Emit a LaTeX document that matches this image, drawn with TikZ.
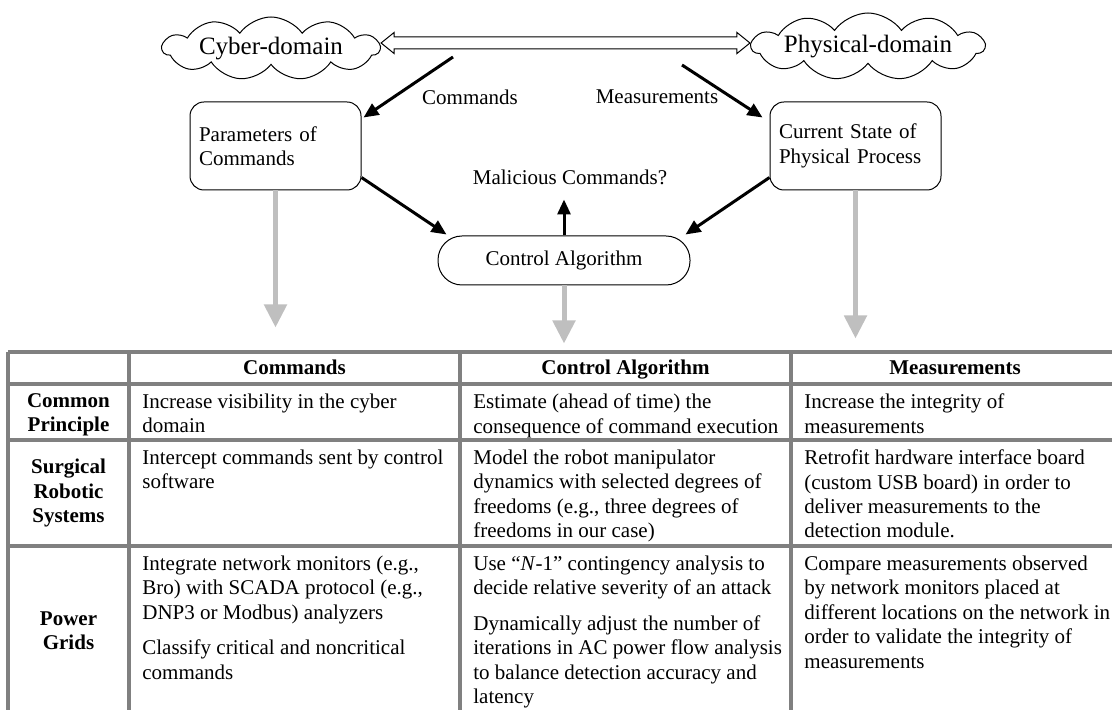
\documentclass[tikz,border=0pt]{standalone}
\usepackage{fontspec}
\setmainfont{Liberation Serif}
\usetikzlibrary{
    arrows.meta,
    calc,
    positioning,
    shapes.symbols
}

\begin{document}
\begin{tikzpicture}[x=0.5pt, y=-0.5pt,
    every node/.style={font=\fontsize{10.5}{12.2}\selectfont},
    realm/.style={cloud, draw, line width=0.5pt, cloud puffs=11, cloud puff arc=110,
        cloud ignores aspect, inner sep=0pt, font=\fontsize{12.5}{14}\selectfont},
    box/.style={draw, line width=0.5pt, rounded corners=7pt, text width=76.5pt,
        inner xsep=4.5pt, minimum height=44pt, align=left},
    flow/.style={line width=1.5pt, -{Triangle[length=7.5pt, width=6.5pt]}},
    grayflow/.style={line width=2.5pt, gray!50, -{Triangle[length=11.5pt, width=11pt]}},
    tableline/.style={line width=1.6pt, gray},
    headcell/.style={font=\fontsize{10.5}{12.2}\selectfont\bfseries, align=center},
    cell/.style={anchor=north west, align=left, inner sep=0pt}
]
    \useasboundingbox (0,0) rectangle (1112,710);

    % domains
    \node[realm, minimum width=108.5pt, minimum height=31.5pt] (cyber) at (271,48.5) {Cyber-domain};
    \node[realm, minimum width=115pt, minimum height=33.5pt] (phys) at (868,46.5) {Physical-domain};
    \coordinate (dl) at ([yshift=2.75pt]cyber.east);
    \coordinate (dr) at ([yshift=1.75pt]phys.west);
    \draw[line width=0.5pt, fill=white]
        (dl) -- ++(13,-10.5) -- ++(0,4.5) -- ($(dr)+(-13,-6)$) -- ++(0,-4.5)
        -- (dr) -- ++(-13,10.5) -- ++(0,-4.5) -- ($(dl)+(13,6)$) -- ++(0,4.5) -- cycle;

    % boxes
    \node[box] (params) at (275.5,146) {Parameters of\\Commands};
    \node[box] (current) at (855.5,146) {Current State of\\Physical Process};
    \node[draw, line width=0.5pt, rounded corners=12pt, minimum width=126pt, minimum height=24.5pt]
        (ctrl) at (564,260.5) {Control Algorithm};
    \node (mal) at (570,177) {Malicious Commands?};

    \coordinate (cmd) at (453,57);
    \coordinate (meas) at (682,65);
    \draw[flow] (cmd) -- ([xshift=1pt, yshift=-8pt]params.north east);
    \draw[flow] (meas) -- ([xshift=-3.5pt, yshift=-8pt]current.north west);
    \node (cmdlabel) at (470,97) {Commands};
    \node (measlabel) at (657,97) {Measurements};
    \draw[flow] ([yshift=6.5pt]params.south east) -- ([xshift=4.5pt, yshift=0.5pt]ctrl.north west);
    \draw[flow] ([yshift=6.5pt]current.south west) -- ([xshift=-2.5pt, yshift=0.5pt]ctrl.north east);
    \draw[flow] (ctrl.north) -- ([yshift=18pt]ctrl.north);

    \draw[grayflow] (params.south) -- ++(0,137);
    \draw[grayflow] (ctrl.south) -- ++(0,58);
    \draw[grayflow] (current.south) -- ++(0,148);

    % table
    \foreach \y in {352,384,440,546}
        \draw[tableline] (8,\y) -- (1112,\y);
    \foreach \x in {8,129,460,791}
        \draw[tableline] (\x,352) -- (\x,710);

    \node[headcell, anchor=base] (hcmd) at (294.5,374.5) {Commands};
    \node[headcell, anchor=base] (hctrl) at (625.5,374.5) {Control Algorithm};
    \node[headcell, anchor=base] (hmeas) at (955,374.5) {Measurements};
    \node[headcell] (common) at (68.5,415) {Common\\Principle};
    \node[headcell] (surgical) at (68.5,493) {Surgical\\Robotic\\Systems};
    \node[headcell] (power) at (68.5,631) {Power\\Grids};

    \node[cell] (c11) at (142,393.5) {Increase visibility in the cyber\\domain};
    \node[cell] (c12) at (473,393.5) {Estimate (ahead of time) the\\consequence of command execution};
    \node[cell] (c13) at (804,393.5) {Increase the integrity of\\measurements};

    \node[cell] (c21) at (142,449.5) {Intercept commands sent by control\\software};
    \node[cell] (c22) at (473,449.5) {Model the robot manipulator\\dynamics with selected degrees of\\freedoms (e.g., three degrees of\\freedoms in our case)};
    \node[cell] (c23) at (804,449.5) {Retrofit hardware interface board\\(custom USB board) in order to\\deliver measurements to the\\detection module.};

    \node[cell] (c31) at (142,555.5) {Integrate network monitors (e.g.,\\Bro) with SCADA protocol (e.g.,\\DNP3 or Modbus) analyzers\\[5.5pt]Classify critical and noncritical\\commands};
    \node[cell] (c32) at (473,555.5) {Use “\textit{N}-1” contingency analysis to\\decide relative severity of an attack\\[5.5pt]Dynamically adjust the number of\\iterations in AC power flow analysis\\to balance detection accuracy and\\latency};
    \node[cell] (c33) at (804,555.5) {Compare measurements observed\\by network monitors placed at\\different locations on the network in\\order to validate the integrity of\\measurements};
\end{tikzpicture}
\end{document}
